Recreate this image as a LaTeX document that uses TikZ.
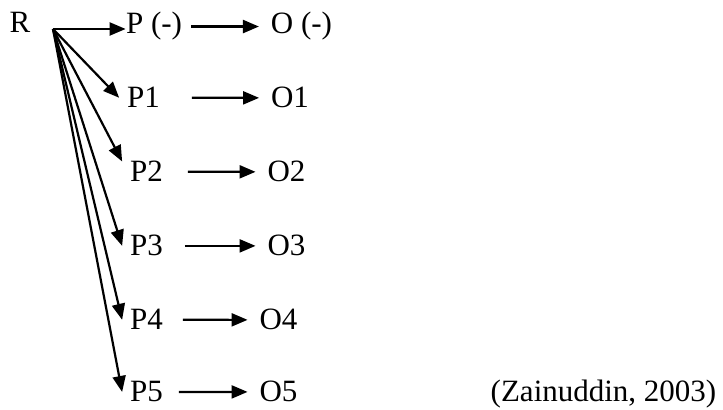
\documentclass[tikz,border=0pt]{standalone}
\usepackage{fontspec}
\setmainfont{Liberation Serif}
\usetikzlibrary{arrows.meta}
\begin{document}
\begin{tikzpicture}[x=0.5pt, y=-0.5pt,
  every node/.style={font=\fontsize{15.5}{18}\selectfont, inner sep=0pt, anchor=base},
  pnode/.style={outer xsep=4pt, outer ysep=0pt},
  onode/.style={outer xsep=6pt, outer ysep=0pt},
  arr/.style={-{Triangle[length=8pt,width=6.5pt]}, line width=1.1pt}]
\useasboundingbox (0,0) rectangle (723,410);

% Origen
\node (R) at (20,33) {R};
\coordinate (src) at (53,29);

% Procesos
\node (P0) at (154,34) {P (-)};
\node [pnode] (P1) at (143.5,108) {P1};
\node [pnode] (P2) at (146.5,182) {P2};
\node [pnode] (P3) at (146.5,256) {P3};
\node [pnode] (P4) at (146.5,330) {P4};
\node [pnode] (P5) at (146.5,402) {P5};

% Resultados
\node [onode] (O0) at (301.5,34) {O (-)};
\node [onode] (O1) at (290,108) {O1};
\node [onode] (O2) at (286.5,182) {O2};
\node [onode] (O3) at (286.5,256) {O3};
\node [onode] (O4) at (278.5,330) {O4};
\node [onode] (O5) at (278.5,402) {O5};

% Fuente
\node (cite) at (603.5,402) {(Zainuddin, 2003)};

% Flechas desde R
\draw [arr] (src) -- (src -| P0.west);
\draw [arr] (src) -- (P1.west);
\draw [arr] (src) -- (P2.north west);
\draw [arr] (src) -- (P3.west);
\draw [arr] (src) -- (P4.west);
\draw [arr] (src) -- (P5.west);

% Flechas P -> O
\draw [arr, shorten <=4.5pt] (P0) -- (O0);
\draw [arr, shorten <=12pt] (P1) -- (O1);
\draw [arr, shorten <=8.5pt] (P2) -- (O2);
\draw [arr, shorten <=7pt] (P3) -- (O3);
\draw [arr, shorten <=6pt] (P4) -- (O4);
\draw [arr, shorten <=4pt] (P5) -- (O5);
\end{tikzpicture}
\end{document}
